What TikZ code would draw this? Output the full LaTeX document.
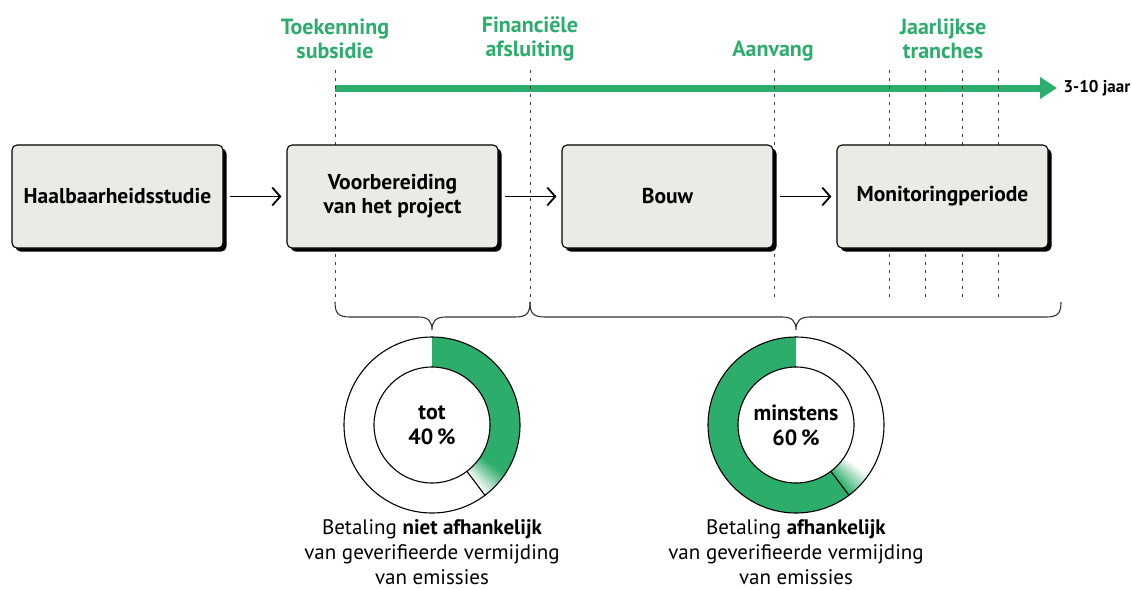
\documentclass[tikz,border=0pt]{standalone}
\usepackage{fontspec}
\setmainfont{PT Sans}
\usetikzlibrary{arrows.meta,shadows,calc}
\definecolor{grn}{RGB}{44,173,107}
\definecolor{boxfill}{RGB}{235,235,230}
\definecolor{dashc}{RGB}{60,60,60}
\newcommand{\ringsec}[4]{\fill[#4] ($(#1)+(#2:88pt)$) arc[start angle=#2,end angle=#3,radius=88pt] -- ($(#1)+(#3:58pt)$) arc[start angle=#3,end angle=#2,radius=58pt] -- cycle;}
\begin{document}
\begin{tikzpicture}[x=1pt,y=1pt,
  box/.style={draw=black, line width=1.1pt, fill=boxfill, rounded corners=5pt, minimum width=211pt, minimum height=103pt, align=center, font=\bfseries\fontsize{21.5}{24}\selectfont, drop shadow={shadow xshift=3.5pt, shadow yshift=-3.5pt, fill=black, opacity=1}},
  glabel/.style={text=grn, font=\bfseries\fontsize{22}{24}\selectfont, align=center},
  flow/.style={line width=1.3pt, -{Straight Barb[length=8pt,width=18pt,line width=1.8pt]}},
  tick/.style={dashc, line width=0.8pt, dash pattern=on 3pt off 5pt},
  brace/.style={draw=black!80, line width=1.1pt},
  ring/.style={draw=black, line width=1.1pt},
  pct/.style={font=\bfseries\fontsize{22}{25}\selectfont, align=center},
  note/.style={font=\fontsize{21}{25}\selectfont, align=center}
]
\useasboundingbox (0,0) rectangle (1132,-589);

% milestone labels
\node[glabel] (t1) at (335,-39) {Toekenning\\subsidie};
\node[glabel] (t2) at (530,-39) {Financiële\\afsluiting};
\node[glabel] (t3) at (773,-51) {Aanvang};
\node[glabel] (t4) at (943,-39) {Jaarlijkse\\tranches};

% timeline
\coordinate (gs) at (335,-88);
\coordinate (ge) at (1057,-88);
\draw[grn, line width=7pt, -{Triangle[length=17pt,width=21pt]}] (gs) -- (ge);
\node[anchor=west, font=\bfseries\fontsize{17}{19}\selectfont] (yr) at (1060,-88) {3-10 jaar};

% dashed markers
\foreach \n/\x in {a/335,b/530,c/774,d/889,e/925,f/962,g/998}{
  \coordinate (\n top) at (\x,-70);
  \coordinate (\n bot) at (\x,-302);
  \draw[tick] (\n top) -- (\n bot);
}

% boxes
\node[box] (b1) at (117.5,-196.5) {Haalbaarheidsstudie};
\node[box] (b2) at (392.5,-196.5) {Voorbereiding\\van het project};
\node[box] (b3) at (667.5,-196.5) {Bouw};
\node[box] (b4) at (942.5,-196.5) {Monitoringperiode};

\draw[flow] ([xshift=6pt]b1.east) -- ([xshift=-5pt]b2.west);
\draw[flow] ([xshift=6pt]b2.east) -- ([xshift=-5pt]b3.west);
\draw[flow] ([xshift=6pt]b3.east) -- ([xshift=-5pt]b4.west);

% braces
\draw[brace] (abot) .. controls (335,-313) and (338,-317) .. (350,-317) -- (418,-317)
  .. controls (428,-317) and (432,-321) .. (432,-330)
  .. controls (432,-321) and (436,-317) .. (446,-317) -- (515,-317)
  .. controls (527,-317) and (530,-313) .. (bbot);
\draw[brace] (bbot) .. controls (530,-313) and (533,-317) .. (545,-317) -- (782,-317)
  .. controls (792,-317) and (796,-321) .. (796,-330)
  .. controls (796,-321) and (800,-317) .. (810,-317) -- (1046,-317)
  .. controls (1058,-317) and (1061,-313) .. (1061,-302);

% donut 1
\coordinate (d1) at (432,-425);
\fill[white] (d1) circle[radius=88pt];
\ringsec{d1}{90}{-34}{grn}
\foreach \i in {0,...,18}{
  \pgfmathsetmacro\a{-34-\i}
  \pgfmathsetmacro\b{-35.1-\i}
  \pgfmathtruncatemacro\p{100-\i*5.3}
  \ringsec{d1}{\a}{\b}{grn!\p!white}
}
\draw[ring] (d1) circle[radius=88pt];
\draw[ring] (d1) circle[radius=58pt];
\draw[ring] ($(d1)+(-53:58pt)$) -- ($(d1)+(-53:88pt)$);
\node[pct] (p1) at (d1) {tot\\40\,\%};

% donut 2
\coordinate (d2) at (796,-425);
\fill[white] (d2) circle[radius=88pt];
\ringsec{d2}{90}{307}{grn}
\foreach \i in {0,...,18}{
  \pgfmathsetmacro\a{307+\i}
  \pgfmathsetmacro\b{308.1+\i}
  \pgfmathtruncatemacro\p{100-\i*5.3}
  \ringsec{d2}{\a}{\b}{grn!\p!white}
}
\draw[ring] (d2) circle[radius=88pt];
\draw[ring] (d2) circle[radius=58pt];
\draw[ring] ($(d2)+(-53:58pt)$) -- ($(d2)+(-53:88pt)$);
\node[pct] (p2) at (d2) {minstens\\60\,\%};

% notes
\node[note] (n1) at (432,-552) {Betaling \textbf{niet afhankelijk}\\van geverifieerde vermijding\\van emissies};
\node[note] (n2) at (796,-552) {Betaling \textbf{afhankelijk}\\van geverifieerde vermijding\\van emissies};
\end{tikzpicture}
\end{document}
